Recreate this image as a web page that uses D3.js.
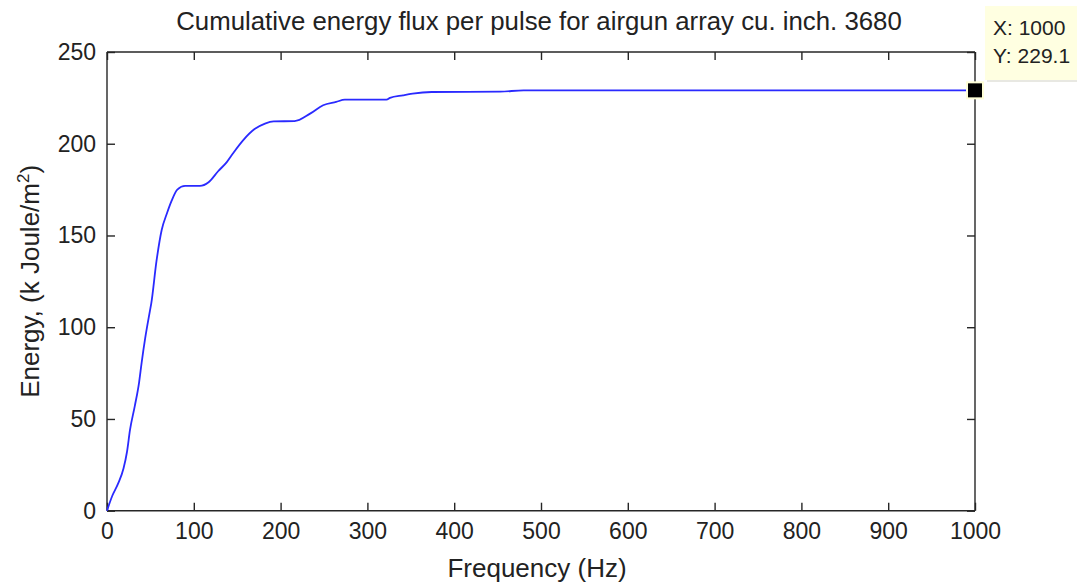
<!DOCTYPE html>
<html>
<head>
<meta charset="utf-8">
<script src="https://cdn.jsdelivr.net/npm/d3@7"></script>
<style>
body { margin: 0; background: #fff; }
text { font-family: "Liberation Sans", Arial, sans-serif; fill: #222; }
</style>
</head>
<body>
<svg id="chart" width="1077" height="584"></svg>
<script>
const title = "Cumulative energy flux per pulse for airgun array cu. inch. 3680";
const xLabel = "Frequency (Hz)";
const xTicks = [0, 100, 200, 300, 400, 500, 600, 700, 800, 900, 1000];
const yTicks = [0, 50, 100, 150, 200, 250];
const frequency = [0, 6, 13, 19, 23, 26.5, 32, 37, 40, 44, 49.5, 51, 57, 63, 69, 74.5, 81, 90, 107, 117, 128, 138, 145.5, 157, 170, 182, 192, 216, 234, 249, 264, 274, 322, 326, 341, 352, 374, 453, 480, 1000];
const energy =    [0, 8, 15, 23, 32, 44, 57, 70, 81, 94, 109, 113, 136, 153, 162, 169, 175, 177, 177, 179, 185, 190, 195, 202, 208, 211, 212.2, 212.3, 216.4, 221, 222.8, 224, 224, 225, 226.4, 227.3, 228.2, 228.4, 229.1, 229.1];
const tipX = 1000, tipY = 229.1;

const svg = d3.select("#chart");
const m = {left: 107, right: 975, top: 52, bottom: 510.7};
const x = d3.scaleLinear().domain([0, 1000]).range([m.left, m.right]);
const y = d3.scaleLinear().domain([0, 250]).range([m.bottom, m.top]);

const tl = 8;
const gb = svg.append("g").attr("transform", `translate(0,${m.bottom})`)
  .call(d3.axisBottom(x).tickValues(xTicks).tickSize(-tl).tickPadding(12).tickFormat(d3.format("d")));
const gt = svg.append("g").attr("transform", `translate(0,${m.top})`)
  .call(d3.axisTop(x).tickValues(xTicks).tickSize(-tl).tickFormat(""));
const gl = svg.append("g").attr("transform", `translate(${m.left},0)`)
  .call(d3.axisLeft(y).tickValues(yTicks).tickSize(-tl).tickPadding(11).tickFormat(d3.format("d")));
const gr = svg.append("g").attr("transform", `translate(${m.right},0)`)
  .call(d3.axisRight(y).tickValues(yTicks).tickSize(-tl).tickFormat(""));
[gb, gt, gl, gr].forEach(g => {
  g.selectAll(".domain").attr("stroke", "#262626").attr("stroke-width", 1.4);
  g.selectAll(".tick line").attr("stroke", "#262626").attr("stroke-width", 1.4);
  g.selectAll("text").attr("font-size", 23).attr("fill", "#262626").attr("font-family", "Liberation Sans, Arial, sans-serif");
});
gb.selectAll(".domain").attr("d", `M${m.left},0H${m.right}`);
gt.selectAll(".domain").attr("d", `M${m.left},0H${m.right}`);
gl.selectAll(".domain").attr("d", `M0,${m.top}V${m.bottom}`);
gr.selectAll(".domain").attr("d", `M0,${m.top}V${m.bottom}`);

// line
const line = d3.line().x((d, i) => x(frequency[i])).y(d => y(d)).curve(d3.curveMonotoneX);
svg.append("path").datum(energy).attr("d", line).attr("fill", "none").attr("stroke", "#2a2aff").attr("stroke-width", 1.8);

// title
svg.append("text").attr("x", 539).attr("y", 30).attr("text-anchor", "middle").attr("font-size", 25.8).attr("fill", "#262626").text(title);
// x label
svg.append("text").attr("x", 537).attr("y", 577).attr("text-anchor", "middle").attr("font-size", 26).attr("fill", "#262626").text(xLabel);
// y label
const yl = svg.append("text").attr("transform", `translate(39,${(m.top + m.bottom) / 2}) rotate(-90)`).attr("text-anchor", "middle").attr("font-size", 26).attr("fill", "#262626");
yl.append("tspan").text("Energy, (k Joule/m");
yl.append("tspan").attr("font-size", 17).attr("dy", -10).text("2");
yl.append("tspan").attr("dy", 10).text(")");

// data tip marker
svg.append("rect").attr("x", x(tipX) - 8).attr("y", y(tipY) - 8).attr("width", 16).attr("height", 16)
  .attr("fill", "#000").attr("stroke", "#ffffd8").attr("stroke-width", 2);
// data tip box
const bx = 985, by = 6;
svg.append("rect").attr("x", bx + 2).attr("y", by + 2).attr("width", 94).attr("height", 74).attr("fill", "#e8e8e2");
svg.append("rect").attr("x", bx).attr("y", by).attr("width", 94).attr("height", 74).attr("fill", "#ffffe1");
svg.append("text").attr("x", bx + 8).attr("y", by + 29).attr("font-size", 21).attr("fill", "#333").text("X: " + tipX);
svg.append("text").attr("x", bx + 8).attr("y", by + 57).attr("font-size", 21).attr("fill", "#333").text("Y: " + tipY);
</script>
</body>
</html>
